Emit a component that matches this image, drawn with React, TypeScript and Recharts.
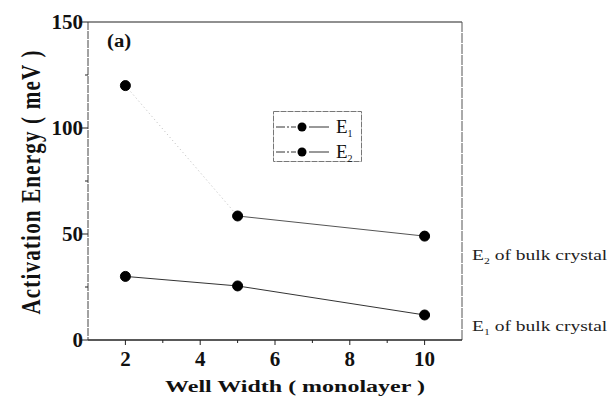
import React from 'react';
import {
  LineChart,
  Line,
  XAxis,
  YAxis,
  ReferenceLine,
} from 'recharts';

// well width in monolayers
const wellWidths = [2, 5, 10];
// activation energies (meV)
const e1Values = [30, 25.5, 11.8];
const e2Values = [120, 58.5, 49];

const xTicks = [2, 3, 4, 5, 6, 7, 8, 9, 10];
const yTicks = [0, 25, 50, 75, 100, 125, 150];

const serif = '"Liberation Serif", "Times New Roman", serif';

const rows = wellWidths.map((w, i) => ({
  width: w,
  e1: e1Values[i],
  e2: e2Values[i],
  // faint guide between first two E2 points, solid after that
  e2Faint: i <= 1 ? e2Values[i] : null,
  e2Solid: i >= 1 ? e2Values[i] : null,
}));

const TICK_SIZE = 6;
const TICK_MARGIN = 4;

function XTick({ x, y, payload }: any) {
  const major = payload.value % 2 === 0;
  const axisY = y - TICK_SIZE - TICK_MARGIN;
  return (
    <g>
      <line x1={x} x2={x} y1={axisY} y2={axisY + (major ? 5 : 3)} stroke="#222" strokeWidth={1} />
      {major && (
        <text x={x} y={y + 16} textAnchor="middle" fontFamily={serif} fontWeight="bold" fontSize={21} fill="#111">
          {payload.value}
        </text>
      )}
    </g>
  );
}

function YTick({ x, y, payload }: any) {
  const major = payload.value % 50 === 0;
  const axisX = x + TICK_SIZE + TICK_MARGIN;
  return (
    <g>
      <line x1={axisX - (major ? 6 : 3)} x2={axisX} y1={y} y2={y} stroke="#222" strokeWidth={1} />
      {major && (
        <text x={axisX - 5} y={y + 7} textAnchor="end" fontFamily={serif} fontWeight="bold" fontSize={21} fill="#111">
          {payload.value}
        </text>
      )}
    </g>
  );
}

// axis titles are set in a wide, heavy face: stretch Times horizontally
function XTitle({ viewBox }: any) {
  const cx = viewBox.x + viewBox.width / 2 + 20;
  return (
    <text
      transform={`translate(${cx}, 392) scale(1.5, 1)`}
      textAnchor="middle"
      fontFamily={serif}
      fontWeight="bold"
      fontSize={16}
      fill="#111"
    >
      Well Width ( monolayer )
    </text>
  );
}

function YTitle({ viewBox }: any) {
  const cy = viewBox.y + viewBox.height / 2 + 1;
  return (
    <text
      transform={`translate(40, ${cy}) scale(1.25, 1) rotate(-90)`}
      textAnchor="middle"
      fontFamily={serif}
      fontWeight="bold"
      fontSize={21}
      letterSpacing={1.2}
      fill="#111"
    >
      Activation Energy ( meV )
    </text>
  );
}

function LegendBox() {
  const entries = [
    { name: '1', y: 16 },
    { name: '2', y: 41 },
  ];
  return (
    <svg width={90} height={52} style={{ display: 'block' }}>
      <rect x={0.5} y={0.5} width={88} height={50} fill="#fff" stroke="#777" strokeWidth={1} strokeDasharray="6 1" />
      {entries.map((e) => (
        <g key={e.name}>
          <line x1={3} x2={23} y1={e.y} y2={e.y} stroke="#333" strokeDasharray="9 2 2 2" />
          <circle cx={29} cy={e.y} r={4.5} fill="#000" />
          <line x1={36} x2={56} y1={e.y} y2={e.y} stroke="#333" />
          <text x={63} y={e.y + 6} fontFamily={serif} fontSize={19} fill="#111">
            E<tspan fontSize={10} dy={4}>{e.name}</tspan>
          </text>
        </g>
      ))}
    </svg>
  );
}

const sideNote: React.CSSProperties = {
  position: 'absolute',
  left: 472,
  fontFamily: serif,
  fontSize: 15,
  color: '#222',
  whiteSpace: 'nowrap',
  transform: 'scaleX(1.3)',
  transformOrigin: 'left center',
};

export default function App() {
  return (
    <div style={{ position: 'absolute', left: 0, top: 0, width: 615, height: 398, background: '#fff' }}>
      <LineChart
        width={615}
        height={398}
        data={rows}
        margin={{ top: 22, right: 153, bottom: 0, left: 0 }}
      >
        <XAxis
          dataKey="width"
          type="number"
          domain={[1, 11]}
          ticks={xTicks}
          height={58}
          tickSize={TICK_SIZE}
          tickMargin={TICK_MARGIN}
          tickLine={false}
          tick={<XTick />}
          axisLine={{ stroke: '#222', strokeWidth: 1.5 }}
          label={<XTitle />}
        />
        <YAxis
          type="number"
          domain={[0, 150]}
          ticks={yTicks}
          width={88}
          tickSize={TICK_SIZE}
          tickMargin={TICK_MARGIN}
          tickLine={false}
          tick={<YTick />}
          axisLine={{ stroke: '#444', strokeWidth: 1, strokeDasharray: '8 1' }}
          label={<YTitle />}
        />
        <ReferenceLine y={150} stroke="#222" strokeWidth={1.2} />
        <ReferenceLine x={11} stroke="#555" strokeWidth={1} strokeDasharray="10 1" />
        <Line
          dataKey="e2Faint"
          stroke="#bbb"
          strokeWidth={1}
          strokeDasharray="1 3"
          dot={false}
          isAnimationActive={false}
        />
        <Line
          dataKey="e2Solid"
          stroke="#555"
          strokeWidth={1}
          dot={false}
          isAnimationActive={false}
        />
        <Line
          dataKey="e2"
          stroke="none"
          dot={{ r: 5, fill: '#000', stroke: '#000', strokeWidth: 1 }}
          isAnimationActive={false}
        />
        <Line
          dataKey="e1"
          stroke="#333"
          strokeWidth={1}
          dot={{ r: 5, fill: '#000', stroke: '#000', strokeWidth: 1 }}
          isAnimationActive={false}
        />
      </LineChart>
      <div style={{ position: 'absolute', left: 273, top: 111 }}>
        <LegendBox />
      </div>
      <div style={{ position: 'absolute', left: 107, top: 31, fontFamily: serif, fontWeight: 'bold', fontSize: 18, color: '#111', transform: 'scaleX(1.15)', transformOrigin: 'left center' }}>
        (a)
      </div>
      <div style={{ ...sideNote, top: 247 }}>
        E<sub style={{ fontSize: 9 }}>2</sub> of bulk crystal
      </div>
      <div style={{ ...sideNote, top: 318 }}>
        E<sub style={{ fontSize: 9 }}>1</sub> of bulk crystal
      </div>
    </div>
  );
}
